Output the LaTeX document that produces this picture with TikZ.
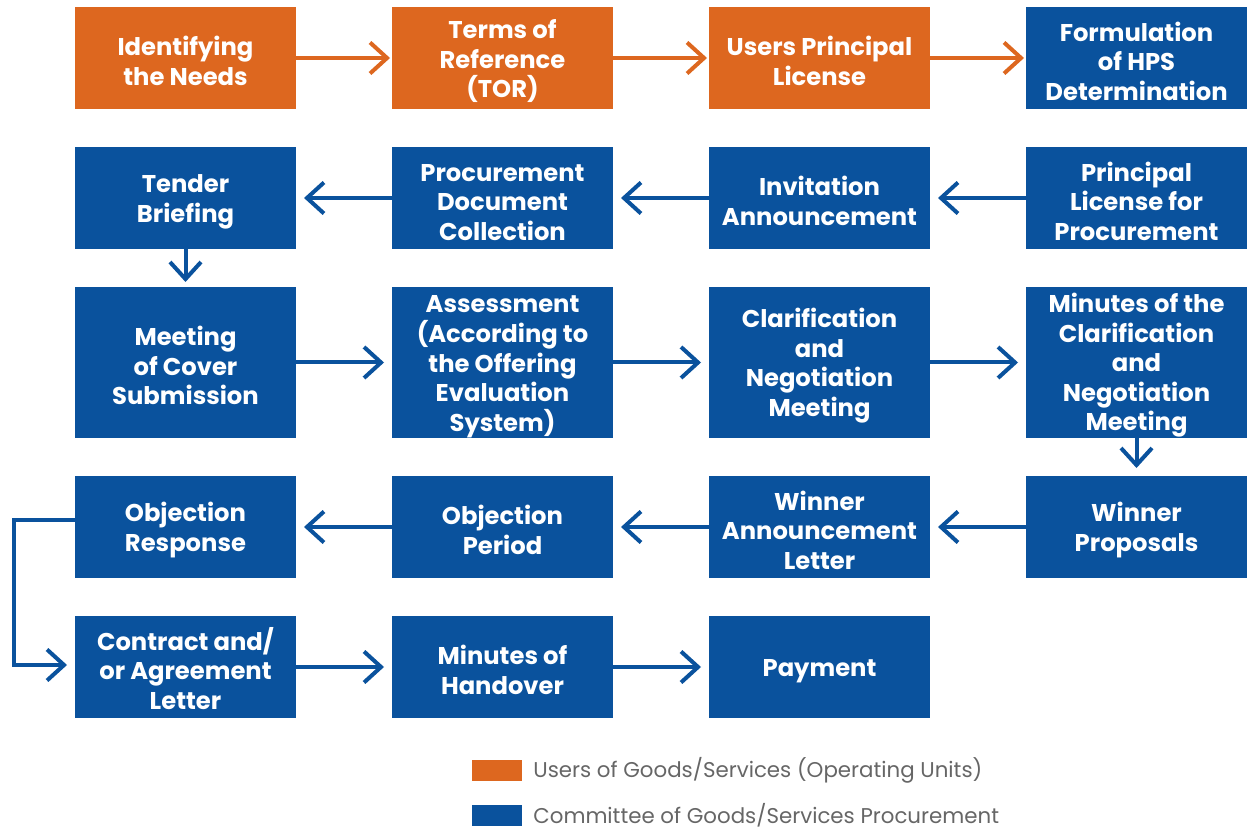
\documentclass[tikz,border=0pt]{standalone}
\usepackage{fontspec}
\setmainfont{Poppins}
\usepackage{tikz}
\usetikzlibrary{arrows.meta,positioning}

\definecolor{useorange}{HTML}{DD671F}
\definecolor{procblue}{HTML}{0A529D}
\definecolor{legendgray}{HTML}{666666}

\newcommand{\boxfont}{\fontsize{13.8}{16.8}\selectfont\bfseries}
\newcommand{\toppad}{\rule{0pt}{14.5pt}}

\begin{document}
\begin{tikzpicture}[node distance=0.76cm and 1.92cm,
    box/.style={rectangle,fill=procblue,text=white,minimum width=4.42cm,
        minimum height=2.04cm,inner sep=0pt,outer sep=0pt,align=center,font=\boxfont},
    userbox/.style={box,fill=useorange},
    tall/.style={minimum height=3.02cm},
    flow/.style={draw=procblue,line width=0.08cm,shorten >=0.16cm,
        -{Straight Barb[length=0.34cm,width=0.62cm,line width=0.08cm]}},
    userflow/.style={flow,draw=useorange,shorten >=0.04cm},
    legendbox/.style={rectangle,minimum width=1cm,minimum height=0.42cm,inner sep=0pt,outer sep=0pt},
    legendtext/.style={text=legendgray,inner sep=0pt,anchor=west,font=\fontsize{12.15}{14}\selectfont}]
    \useasboundingbox (0,0) rectangle (24.98,-16.58);

    % first row
    \node [userbox,anchor=north west] (needs) at (1.5,-0.14) {\toppad Identifying\\the Needs};
    \node [userbox,right=of needs] (tor) {\toppad Terms of\\Reference\\(TOR)};
    \node [userbox,right=of tor] (license) {\toppad Users Principal\\License};
    \node [box,right=of license] (hps) {\toppad Formulation\\of HPS\\Determination};

    % second row
    \node [box,below=of needs] (briefing) {\toppad Tender\\Briefing};
    \node [box,right=of briefing] (collection) {\toppad Procurement\\Document\\Collection};
    \node [box,right=of collection] (invitation) {\toppad Invitation\\Announcement};
    \node [box,right=of invitation] (procurement) {\toppad Principal\\License for\\Procurement};

    % third row
    \node [box,tall,below=of briefing] (cover) {\toppad Meeting\\of Cover\\Submission};
    \node [box,tall,right=of cover] (assessment) {\toppad Assessment\\(According to\\the Offering\\Evaluation\\System)};
    \node [box,tall,right=of assessment] (clarification) {\toppad Clarification\\and\\Negotiation\\Meeting};
    \node [box,tall,right=of clarification] (minutes) {\toppad Minutes of the\\Clarification\\and\\Negotiation\\Meeting};

    % fourth row
    \node [box,below=of cover] (response) {\toppad Objection\\Response};
    \node [box,right=of response] (period) {\toppad Objection\\Period};
    \node [box,right=of period] (letter) {\toppad Winner\\Announcement\\Letter};
    \node [box,right=of letter] (proposals) {\toppad Winner\\Proposals};

    % fifth row
    \node [box,below=of response] (contract) {\toppad Contract and/\\or Agreement\\Letter};
    \node [box,right=of contract] (handover) {\toppad Minutes of\\Handover};
    \node [box,right=of handover] (payment) {\toppad Payment};

    \draw [userflow] (needs) -- (tor);
    \draw [userflow] (tor) -- (license);
    \draw [userflow] (license) -- (hps);

    \draw [flow] (procurement) -- (invitation);
    \draw [flow] (invitation) -- (collection);
    \draw [flow] (collection) -- (briefing);
    \draw [flow,shorten >=0.1cm] (briefing) -- (cover);

    \draw [flow] (cover) -- (assessment);
    \draw [flow] (assessment) -- (clarification);
    \draw [flow] (clarification) -- (minutes);
    \draw [flow] (minutes) -- (proposals);

    \draw [flow] (proposals) -- (letter);
    \draw [flow] (letter) -- (period);
    \draw [flow] (period) -- (response);
    \draw [flow] ([yshift=0.14cm]response.west) -- ++(-1.22,0) |- ([yshift=0.04cm]contract.west);

    \draw [flow] (contract) -- (handover);
    \draw [flow] (handover) -- (payment);

    % legend
    \node [legendbox,fill=useorange,anchor=north west] (userkey) at (9.44,-15.2) {};
    \node [legendtext,right=0.22cm of userkey] {Users of Goods/Services (Operating Units)};
    \node [legendbox,fill=procblue,below=0.48cm of userkey] (prockey) {};
    \node [legendtext,right=0.22cm of prockey] {Committee of Goods/Services Procurement};
\end{tikzpicture}
\end{document}
